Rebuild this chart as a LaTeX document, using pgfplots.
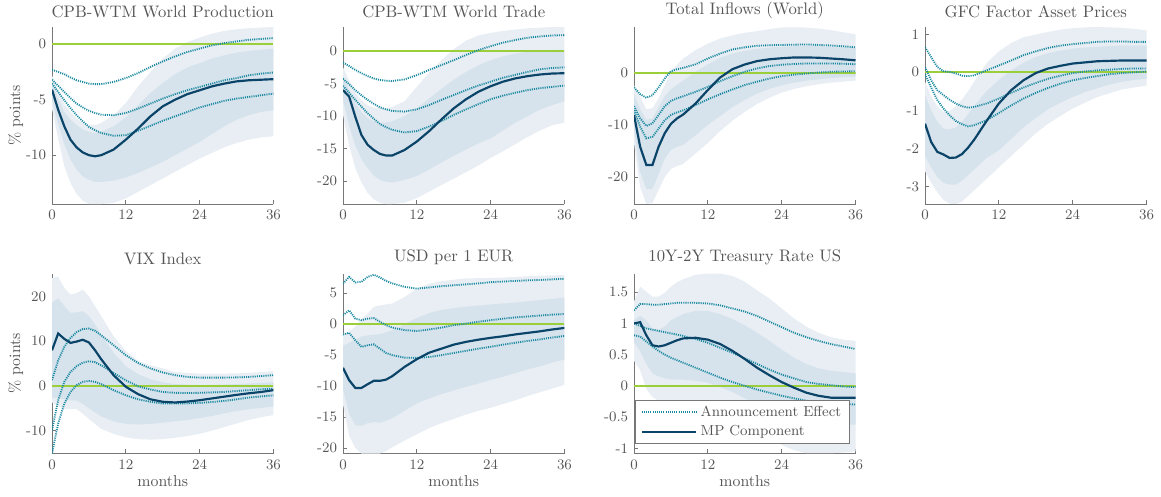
\documentclass[border=0pt]{standalone}
\usepackage{pgfplots}
\usepackage{pgfplotstable}
\pgfplotsset{compat=1.18}
\usepgfplotslibrary{fillbetween}
\definecolor{bandout}{HTML}{E8EEF3}
\definecolor{bandin}{HTML}{D6E2EC}
\definecolor{solidc}{HTML}{0A4468}
\definecolor{dotc}{HTML}{1A8AA0}
\definecolor{zeroc}{HTML}{9BCF3A}
\definecolor{txtgray}{HTML}{555555}
\definecolor{axisgray}{HTML}{777777}

\pgfplotstableread{
x s a b c ou iu il ol
0 -4.1 -2.3 -3.2 -3.55 -2.8 -3.5 -5.0 -5.8
1 -5.9 -2.5 -3.75 -4.3 -4.2 -4.9 -7.2 -8.5
2 -7.4 -2.7 -4.3 -5.05 -5.4 -6.1 -9.0 -11.0
3 -8.6 -3.0 -4.85 -5.75 -6.1 -6.8 -10.4 -12.5
4 -9.3 -3.25 -5.35 -6.4 -6.7 -7.3 -11.3 -13.5
5 -9.75 -3.4 -5.7 -6.95 -7.1 -7.7 -11.9 -14.1
6 -10.0 -3.55 -6.0 -7.45 -7.3 -7.9 -12.2 -14.4
7 -10.1 -3.6 -6.2 -7.75 -7.3 -8.0 -12.4 -14.4
8 -10.0 -3.6 -6.35 -8.0 -7.1 -7.9 -12.4 -14.4
10 -9.5 -3.4 -6.4 -8.25 -6.4 -7.4 -12.3 -14.3
12 -8.6 -3.05 -6.2 -8.2 -5.3 -6.6 -12.0 -13.9
14 -7.6 -2.6 -5.8 -7.8 -3.8 -5.5 -11.6 -13.3
16 -6.5 -2.05 -5.35 -7.35 -2.5 -4.4 -11.1 -12.7
18 -5.6 -1.55 -4.9 -6.9 -1.3 -3.5 -10.6 -12.1
20 -5.0 -1.1 -4.5 -6.5 -0.4 -2.7 -10.0 -11.5
22 -4.5 -0.7 -4.15 -6.1 0.2 -2.1 -9.4 -10.9
24 -4.15 -0.4 -3.85 -5.7 0.6 -1.7 -8.8 -10.3
26 -3.8 -0.1 -3.55 -5.4 0.95 -1.3 -8.1 -9.8
28 -3.55 0.1 -3.25 -5.1 1.2 -1.0 -7.4 -9.3
30 -3.35 0.25 -3.05 -4.9 1.35 -0.75 -6.8 -8.9
32 -3.25 0.4 -2.8 -4.75 1.45 -0.6 -6.4 -8.6
34 -3.2 0.48 -2.65 -4.6 1.5 -0.5 -6.1 -8.4
36 -3.15 0.55 -2.55 -4.45 1.55 -0.4 -5.95 -8.3
}\tA

\pgfplotstableread{
x s a b c ou iu il ol
0 -6.0 -1.75 -4.25 -5.35 -2.5 -3.8 -7.5 -9.8
1 -7.0 -2.3 -5.1 -6.4 -4.5 -6.0 -11.5 -14.5
2 -10.1 -2.9 -6.0 -7.5 -6.3 -8.0 -14.5 -18.0
3 -12.9 -3.4 -6.8 -8.55 -7.6 -9.4 -16.6 -20.2
4 -14.4 -3.85 -7.5 -9.55 -8.3 -10.3 -18.0 -21.8
5 -15.2 -4.2 -8.1 -10.4 -8.7 -10.8 -19.1 -22.8
6 -15.8 -4.45 -8.65 -11.2 -8.8 -11.0 -19.8 -23.3
7 -16.05 -4.55 -8.95 -11.7 -8.8 -11.0 -20.1 -23.5
8 -16.05 -4.6 -9.2 -12.1 -8.6 -10.8 -20.2 -23.5
10 -15.2 -4.35 -9.3 -12.5 -7.7 -10.0 -19.8 -23.3
12 -13.9 -3.7 -8.95 -12.3 -5.5 -8.8 -19.2 -22.6
14 -12.3 -2.9 -8.3 -11.6 -3.3 -7.3 -18.2 -21.6
16 -10.5 -2.15 -7.5 -10.75 -1.4 -5.8 -17.1 -20.6
18 -8.8 -1.4 -6.75 -9.8 0.3 -4.4 -16.1 -19.6
20 -7.4 -0.6 -6.0 -8.95 1.6 -3.2 -15.1 -18.6
22 -6.25 0.15 -5.3 -8.15 2.4 -2.2 -14.2 -17.6
24 -5.4 0.75 -4.7 -7.4 2.8 -1.4 -13.4 -16.4
26 -4.7 1.3 -4.1 -6.85 3.1 -0.8 -12.2 -15.4
28 -4.2 1.7 -3.65 -6.4 3.3 -0.4 -11.0 -14.3
30 -3.85 2.05 -3.2 -6.0 3.5 -0.1 -10.0 -13.2
32 -3.6 2.25 -2.8 -5.7 3.6 0.1 -9.0 -12.2
34 -3.45 2.4 -2.6 -5.5 3.7 0.2 -8.3 -11.4
36 -3.4 2.45 -2.5 -5.3 3.7 0.2 -7.7 -11.0
}\tB

\pgfplotstableread{
x s a b c ou iu il ol
0 -8.1 -2.8 -6.4 -7.2 -2.4 -4.0 -11.0 -13.5
1 -14.2 -4.1 -8.75 -10.35 -4.6 -7.0 -19.0 -22.0
2 -17.7 -4.8 -10.2 -12.6 -7.0 -9.0 -22.3 -25.2
3 -17.7 -4.3 -9.7 -12.3 -6.8 -8.8 -22.3 -25.0
4 -14.2 -2.8 -8.1 -10.7 -4.9 -6.6 -19.5 -22.5
5 -11.6 -1.1 -6.4 -9.1 -2.4 -4.5 -16.5 -20.0
6 -9.8 0.3 -5.4 -8.1 0.2 -3.2 -14.8 -18.5
7 -8.75 0.7 -4.9 -7.6 1.6 -2.3 -14.2 -17.9
8 -8.0 0.95 -4.5 -7.2 2.75 -1.5 -13.8 -17.5
10 -5.9 1.65 -3.65 -6.2 4.35 0.2 -12.0 -15.5
12 -3.3 2.75 -2.7 -5.1 5.6 1.6 -10.0 -13.5
14 -0.9 3.7 -1.6 -4.1 6.6 2.9 -8.3 -11.2
16 0.7 4.5 -0.65 -3.2 7.2 3.7 -6.6 -9.2
18 1.6 4.9 0.2 -2.35 7.7 4.2 -5.2 -7.5
20 2.25 5.2 0.85 -1.7 8.0 4.6 -4.0 -6.0
22 2.6 5.3 1.3 -1.1 8.4 4.85 -3.1 -4.8
24 2.8 5.35 1.55 -0.65 8.7 5.0 -2.4 -3.8
26 2.95 5.4 1.7 -0.35 8.75 5.1 -1.9 -3.1
28 2.95 5.45 1.8 -0.13 8.7 5.2 -1.5 -2.6
30 2.9 5.35 1.8 0.05 8.5 5.1 -1.25 -2.2
32 2.75 5.25 1.8 0.2 8.2 5.0 -1.0 -1.9
34 2.6 5.1 1.75 0.25 7.8 4.9 -0.85 -1.7
36 2.4 4.9 1.65 0.3 7.4 4.8 -0.7 -1.5
}\tC

\pgfplotstableread{
x s a b c ou iu il ol
0 -1.35 0.66 0.14 -0.05 -0.25 -0.6 -2.2 -2.6
1 -1.83 0.4 -0.21 -0.4 -0.63 -1.0 -2.5 -2.9
2 -2.09 0.14 -0.47 -0.73 -0.89 -1.3 -2.75 -3.15
3 -2.16 0.03 -0.6 -0.95 -1.04 -1.48 -2.9 -3.35
4 -2.25 0.01 -0.72 -1.13 -1.02 -1.5 -2.95 -3.45
5 -2.24 -0.03 -0.82 -1.28 -0.89 -1.45 -2.95 -3.46
6 -2.15 -0.09 -0.89 -1.36 -0.71 -1.3 -2.85 -3.4
7 -1.98 -0.1 -0.93 -1.42 -0.5 -1.1 -2.7 -3.25
8 -1.77 -0.08 -0.91 -1.39 -0.24 -0.88 -2.55 -3.1
10 -1.28 0.05 -0.82 -1.26 0.24 -0.5 -2.25 -2.8
12 -0.82 0.18 -0.69 -1.07 0.55 -0.2 -2.05 -2.5
14 -0.47 0.31 -0.54 -0.87 0.77 0.05 -1.75 -2.2
16 -0.21 0.45 -0.4 -0.69 0.92 0.25 -1.45 -1.9
18 -0.02 0.55 -0.28 -0.54 0.99 0.4 -1.2 -1.6
20 0.1 0.64 -0.17 -0.41 1.06 0.5 -0.97 -1.35
22 0.17 0.7 -0.09 -0.3 1.12 0.57 -0.8 -1.15
24 0.23 0.74 -0.02 -0.21 1.16 0.62 -0.65 -0.95
26 0.26 0.77 0.02 -0.15 1.18 0.65 -0.52 -0.8
28 0.29 0.8 0.05 -0.1 1.19 0.67 -0.42 -0.65
30 0.3 0.81 0.07 -0.05 1.18 0.69 -0.32 -0.55
32 0.31 0.81 0.09 -0.02 1.17 0.7 -0.25 -0.45
34 0.31 0.8 0.1 0.0 1.14 0.7 -0.2 -0.4
36 0.31 0.8 0.1 0.02 1.1 0.7 -0.17 -0.35
}\tD

\pgfplotstableread{
x s a b c ou iu il ol
0 7.95 1.3 -9.9 -15.1 24.1 18.5 -2.6 -3.7
1 11.7 5.7 -3.2 -8.4 24.4 19.6 -2.8 -4.5
2 10.5 8.7 0.9 -3.95 21.9 17.8 -3.0 -5.2
3 9.6 10.7 3.1 -1.35 20.4 16.3 -3.2 -5.2
4 9.9 12.0 4.4 0.15 20.7 16.4 -3.3 -5.2
5 10.3 12.7 5.2 0.9 21.5 16.7 -4.0 -6.2
6 9.7 12.8 5.5 1.1 20.0 15.6 -5.0 -7.4
7 7.95 12.3 5.3 0.9 17.8 13.7 -5.9 -8.5
8 5.95 11.3 4.6 0.4 15.6 11.5 -6.8 -9.6
10 2.4 9.1 2.9 -0.95 11.1 7.4 -7.9 -10.7
12 -0.2 6.85 1.25 -2.1 7.8 4.4 -8.5 -11.5
14 -1.85 5.1 -0.1 -3.0 5.6 2.6 -8.6 -11.9
16 -3.0 3.9 -0.8 -3.55 4.6 1.5 -8.5 -12.0
18 -3.55 3.0 -1.35 -3.95 3.9 0.8 -8.2 -11.9
20 -3.7 2.4 -1.55 -3.95 3.1 0.4 -7.9 -11.6
22 -3.5 2.0 -1.6 -3.9 2.9 0.25 -7.6 -11.2
24 -3.2 1.85 -1.55 -3.8 2.75 0.2 -7.2 -10.7
26 -2.8 1.85 -1.45 -3.6 2.75 0.22 -6.7 -10.0
28 -2.4 1.85 -1.35 -3.35 2.75 0.3 -6.1 -9.2
30 -2.0 1.9 -1.15 -3.0 2.8 0.4 -5.6 -8.4
32 -1.65 2.0 -0.95 -2.6 2.9 0.5 -5.2 -7.6
34 -1.35 2.2 -0.75 -2.35 3.1 0.65 -4.9 -7.0
36 -0.95 2.4 -0.6 -2.1 3.3 0.8 -4.6 -6.5
}\tE

\pgfplotstableread{
x s a b c ou iu il ol
0 -7.05 6.55 1.45 -1.65 -1.5 -3.5 -10.5 -13.0
1 -9.05 7.65 2.25 -1.4 -1.2 -3.0 -14.5 -18.0
2 -10.3 6.75 0.9 -2.6 -0.4 -2.5 -16.3 -20.0
3 -10.3 6.85 0.65 -3.65 0.9 -2.0 -16.4 -20.9
4 -9.7 7.65 0.9 -3.4 1.7 -1.8 -16.0 -20.9
5 -9.15 8.0 1.0 -3.25 2.8 -1.7 -15.8 -20.9
6 -9.15 7.55 0.4 -3.95 3.05 -1.6 -15.9 -20.9
7 -8.95 7.0 -0.15 -4.65 3.2 -1.3 -15.6 -20.5
8 -8.4 6.6 -0.55 -5.0 3.35 -1.0 -15.2 -19.9
10 -6.9 6.05 -0.95 -5.4 4.4 0.0 -14.0 -18.8
12 -5.65 5.75 -1.1 -5.45 5.75 1.0 -12.8 -17.8
14 -4.6 5.95 -0.85 -5.3 6.55 1.8 -12.0 -16.8
16 -3.95 6.15 -0.55 -5.0 6.95 2.3 -11.3 -16.0
18 -3.3 6.3 -0.15 -4.65 7.2 2.6 -10.7 -15.3
20 -2.85 6.45 0.1 -4.3 7.4 2.85 -10.1 -14.6
22 -2.5 6.6 0.4 -3.95 7.45 3.0 -9.6 -14.0
24 -2.2 6.8 0.65 -3.65 7.5 3.2 -9.0 -13.5
26 -1.95 6.9 0.9 -3.3 7.55 3.35 -8.5 -12.9
28 -1.65 7.0 1.1 -3.0 7.65 3.5 -7.9 -12.3
30 -1.4 7.1 1.25 -2.7 7.75 3.7 -7.3 -11.6
32 -1.15 7.15 1.4 -2.45 7.85 3.9 -6.8 -11.0
34 -0.85 7.25 1.55 -2.15 7.9 4.1 -6.2 -10.4
36 -0.6 7.35 1.65 -1.9 7.95 4.3 -5.7 -9.8
}\tF

\pgfplotstableread{
x s a b c ou iu il ol
0 1.0 1.21 1.0 0.81 1.35 1.05 0.7 0.4
1 1.02 1.31 0.96 0.79 1.59 1.12 0.55 0.25
2 0.81 1.31 0.92 0.71 1.51 1.05 0.35 -0.05
3 0.65 1.30 0.9 0.63 1.43 0.92 0.2 -0.18
4 0.63 1.30 0.88 0.56 1.43 0.9 0.15 -0.24
5 0.65 1.31 0.86 0.5 1.49 0.95 0.12 -0.26
6 0.69 1.32 0.84 0.45 1.59 1.05 0.1 -0.28
7 0.73 1.33 0.82 0.41 1.66 1.1 0.1 -0.29
8 0.76 1.33 0.8 0.37 1.71 1.15 0.1 -0.3
10 0.77 1.33 0.75 0.29 1.78 1.2 0.08 -0.33
12 0.74 1.32 0.69 0.21 1.8 1.2 0.05 -0.38
14 0.67 1.29 0.61 0.13 1.8 1.15 -0.02 -0.45
16 0.56 1.24 0.53 0.06 1.76 1.07 -0.1 -0.55
18 0.43 1.19 0.44 0.0 1.67 0.97 -0.2 -0.65
20 0.29 1.12 0.35 -0.06 1.53 0.85 -0.3 -0.75
22 0.17 1.03 0.26 -0.11 1.4 0.72 -0.4 -0.85
24 0.06 0.94 0.18 -0.16 1.24 0.58 -0.48 -0.95
26 -0.03 0.85 0.12 -0.2 1.08 0.45 -0.55 -1.03
28 -0.11 0.78 0.06 -0.24 0.95 0.35 -0.6 -1.08
30 -0.16 0.72 0.03 -0.26 0.85 0.28 -0.62 -1.08
32 -0.19 0.67 0.01 -0.28 0.78 0.24 -0.63 -1.08
34 -0.19 0.63 -0.01 -0.29 0.74 0.22 -0.63 -1.07
36 -0.19 0.59 -0.02 -0.3 0.72 0.2 -0.62 -1.05
}\tG

\pgfplotsset{
  irf/.style={
    scale only axis, width=132.9pt,
    xmin=0, xmax=36, xtick={0,12,24,36},
    axis x line=bottom, axis y line=left,
    axis line style={draw=axisgray, line width=0.6pt, -},
    tick style={draw=axisgray, line width=0.5pt},
    tick align=inside, major tick length=2.5pt,
    ticklabel style={font=\fontsize{8.7}{10}\selectfont, text=txtgray},
    /pgf/number format/assume math mode=true,
    title style={font=\fontsize{10}{12}\selectfont, text=txtgray, yshift=-4.3pt},
    label style={font=\fontsize{9.5}{11}\selectfont, text=txtgray},
    ylabel shift=-5pt, xlabel shift=-3pt,
  },
  row1/.style={height=106.2pt},
  row2/.style={height=108pt, xlabel={months}},
  dotl/.style={dotc, line width=1.1pt, dash pattern=on 0.65pt off 0.65pt},
  solidl/.style={solidc, line width=1.3pt},
  zerol/.style={zeroc, line width=1.3pt},
}

\newcommand{\bands}[1]{%
  \addplot[name path=ou, draw=none, forget plot] table[x=x,y=ou]{#1};
  \addplot[name path=ol, draw=none, forget plot] table[x=x,y=ol]{#1};
  \addplot[fill=bandout, draw=none, forget plot] fill between[of=ou and ol];
  \addplot[name path=iu, draw=none, forget plot] table[x=x,y=iu]{#1};
  \addplot[name path=il, draw=none, forget plot] table[x=x,y=il]{#1};
  \addplot[fill=bandin, draw=none, forget plot] fill between[of=iu and il];
  \addplot[zerol, forget plot] coordinates {(0,0) (36,0)};
  \addplot[dotl, forget plot] table[x=x,y=a]{#1};
  \addplot[dotl, forget plot] table[x=x,y=b]{#1};
  \addplot[dotl, forget plot] table[x=x,y=c]{#1};
  \addplot[solidl, forget plot] table[x=x,y=s]{#1};
}

\begin{document}
\begin{tikzpicture}

\begin{axis}[irf, row1, at={(31.2pt,-122.4pt)}, anchor=south west,
  title={CPB-WTM World Production}, ylabel={\% points},
  ymin=-14.4, ymax=1.55, ytick={-10,-5,0}]
\bands{\tA}
\end{axis}

\begin{axis}[irf, row1, at={(205.8pt,-122.4pt)}, anchor=south west,
  title={CPB-WTM World Trade},
  ymin=-23.5, ymax=3.7, ytick={-20,-15,-10,-5,0}]
\bands{\tB}
\end{axis}

\begin{axis}[irf, row1, at={(380.4pt,-122.4pt)}, anchor=south west,
  title={Total Inflows (World)},
  ymin=-25.2, ymax=8.8, ytick={-20,-10,0}]
\bands{\tC}
\end{axis}

\begin{axis}[irf, row1, at={(555.0pt,-122.4pt)}, anchor=south west,
  title={GFC Factor Asset Prices},
  ymin=-3.46, ymax=1.19, ytick={-3,-2,-1,0,1}]
\bands{\tD}
\end{axis}

\begin{axis}[irf, row2, at={(31.2pt,-272.1pt)}, anchor=south west,
  title={VIX Index}, ylabel={\% points},
  ymin=-15.1, ymax=25.1, ytick={-10,0,10,20}]
\bands{\tE}
\end{axis}

\begin{axis}[irf, row2, at={(205.8pt,-272.1pt)}, anchor=south west,
  title={USD per 1 EUR},
  ymin=-20.9, ymax=8.2, ytick={-20,-15,-10,-5,0,5}]
\bands{\tF}
\end{axis}

\begin{axis}[irf, row2, at={(380.4pt,-272.1pt)}, anchor=south west,
  title={10Y-2Y Treasury Rate US},
  ymin=-1.085, ymax=1.8, ytick={-1,-0.5,0,0.5,1,1.5},
  yticklabels={-1,-0.5,0,0.5,1,1.5},
  legend cell align=left,
  legend image code/.code={\draw[#1] (0cm,0cm) -- (1.15cm,0cm);},
  legend style={at={(0.005,0.055)}, anchor=south west, draw=axisgray,
    fill=white, line width=0.6pt, font=\fontsize{8.7}{10}\selectfont,
    text=txtgray, inner xsep=3pt, inner ysep=1pt, row sep=0pt}]
\addlegendimage{dotl}
\addlegendentry{Announcement Effect}
\addlegendimage{solidl}
\addlegendentry{MP Component}
\bands{\tG}
\end{axis}

\pgfresetboundingbox
\path[use as bounding box] (0,0) rectangle (696.6pt,-297.6pt);
\end{tikzpicture}
\end{document}
